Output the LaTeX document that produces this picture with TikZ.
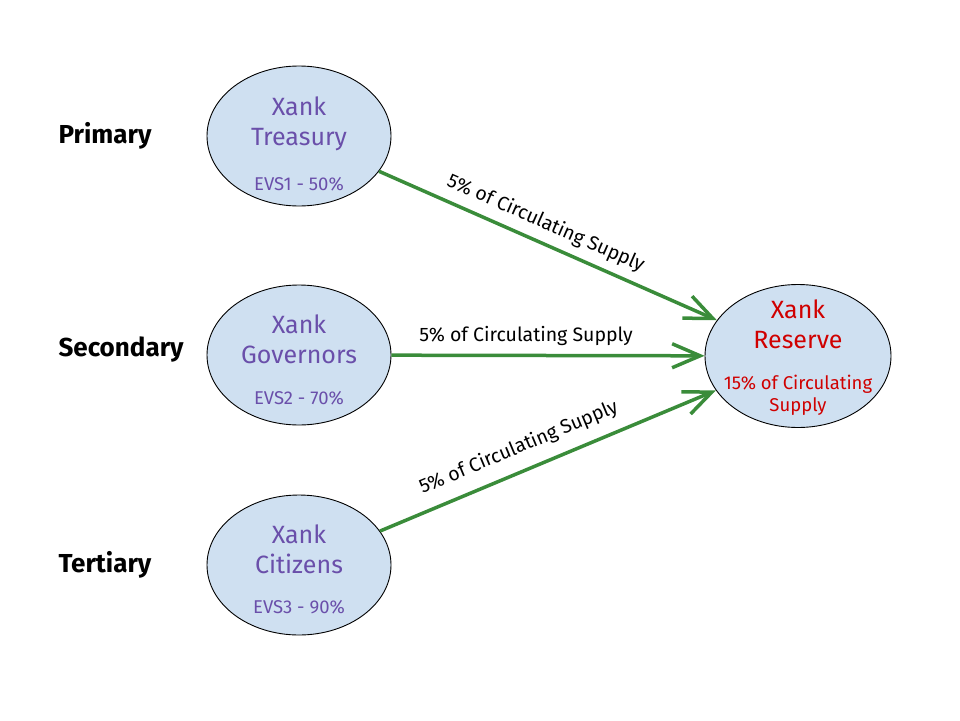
\documentclass[tikz,border=0pt]{standalone}
\usepackage{fontspec}
\setmainfont[Ligatures=NoCommon]{Fira Sans}
\usetikzlibrary{shapes.geometric,arrows.meta}
\definecolor{fillblue}{HTML}{CFE0F1}
\definecolor{nodepurple}{HTML}{6A4FAA}
\definecolor{nodered}{HTML}{D00000}
\definecolor{arrowgreen}{HTML}{3A8C3A}
\tikzset{
  bubble/.style={ellipse,draw=black,line width=0.9pt,fill=fillblue,minimum width=184pt,minimum height=140pt,inner sep=0pt},
  titletext/.style={align=center,font=\fontsize{25}{30}\selectfont,text=nodepurple},
  subtext/.style={font=\fontsize{18.5}{22}\selectfont,text=nodepurple},
  tiertext/.style={anchor=west,font=\fontsize{26}{30}\selectfont\bfseries,text=black},
  flow/.style={draw=arrowgreen,line width=3.5pt,-{Straight Barb[length=28pt,width=24pt,line join=miter]}},
  flowlabel/.style={font=\fontsize{19.5}{22}\selectfont,text=black,sloped,above,inner sep=8pt}
}
\begin{document}
\begin{tikzpicture}[x=1pt,y=-1pt]
\useasboundingbox (0,0) rectangle (960,720);
\node[bubble] (tre) at (299,136) {};
\node[bubble] (gov) at (299,355) {};
\node[bubble] (cit) at (299,565) {};
\node[bubble,minimum width=186pt,minimum height=143pt] (res) at (798,356) {};

\node[titletext] (tretxt) at (299,124) {Xank\\Treasury};
\node[subtext] (tresub) at (299,184) {EVS1 - 50\%};
\node[titletext] (govtxt) at (299,339) {Xank\\Governors};
\node[subtext] (govsub) at (299,398) {EVS2 - 70\%};
\node[titletext] (cittxt) at (299,549) {Xank\\Citizens};
\node[subtext] (citsub) at (299,607) {EVS3 - 90\%};
\node[titletext,text=nodered] (restxt) at (798,324) {Xank\\Reserve};
\node[subtext,text=nodered,align=center,font=\fontsize{18.5}{22}\selectfont] (ressub) at (798,395) {15\% of Circulating\\Supply};

\node[tiertext] (prim) at (55,136) {Primary};
\node[tiertext] (sec) at (55,350) {Secondary};
\node[tiertext] (ter) at (55,565) {Tertiary};

\draw[flow] (tre) -- node[flowlabel,pos=0.47] (l1) {5\% of Circulating Supply} (res);
\draw[flow] (gov) -- node[flowlabel,pos=0.43] (l2) {5\% of Circulating Supply} (res);
\draw[flow] (cit) -- node[flowlabel,pos=0.44,inner sep=12pt] (l3) {5\% of Circulating Supply} (res);
\end{tikzpicture}
\end{document}
